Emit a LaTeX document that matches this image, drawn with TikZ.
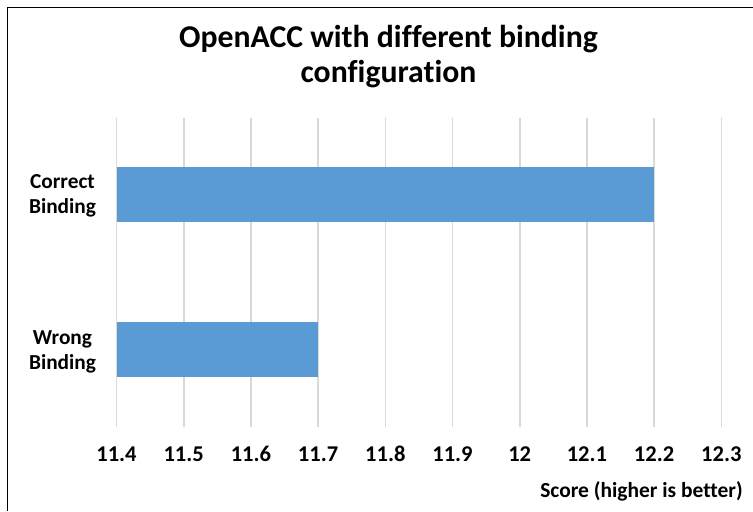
\documentclass[tikz,border=0pt]{standalone}
\usepackage{fontspec}
\setmainfont[Ligatures=NoCommon]{Carlito}
\definecolor{barblue}{HTML}{5B9BD5}
\definecolor{gridgray}{HTML}{D9D9D9}
\tikzset{
  gridline/.style={draw=gridgray, line width=1.2pt},
  bar/.style={fill=barblue},
  ticklabel/.style={anchor=base, inner sep=0pt, font=\fontsize{16.9pt}{19pt}\selectfont\bfseries},
  catlabel/.style={anchor=base, inner sep=0pt, align=center, font=\fontsize{16pt}{19.1pt}\selectfont\bfseries},
  titlelabel/.style={anchor=base, inner sep=0pt, align=center, font=\fontsize{23.8pt}{26.5pt}\selectfont\bfseries},
  axistitle/.style={anchor=base east, inner sep=0pt, font=\fontsize{16.1pt}{18pt}\selectfont\bfseries},
}
\begin{document}
\begin{tikzpicture}[x=0.75pt, y=-0.75pt]
  \useasboundingbox (0,0) rectangle (753,511);
  \fill[white] (0,0) rectangle (753,511);
  % chart frame (top and left edges)
  \draw[black, line width=1pt] (753,7.3) -- (7.3,7.3) -- (7.3,511);

  % title
  \node[titlelabel] (title1) at (388.5,47) {OpenACC with different binding};
  \node[titlelabel] (title2) at (388.5,82) {configuration};

  % vertical gridlines and tick labels, 11.4 ... 12.3
  \foreach \i/\lab in {0/11.4,1/11.5,2/11.6,3/11.7,4/11.8,5/11.9,6/12,7/12.1,8/12.2,9/12.3} {
    \coordinate (gt\i) at ({116.5+67.2*\i},118);
    \coordinate (gb\i) at ({116.5+67.2*\i},427);
    \draw[gridline] (gt\i) -- (gb\i);
    \node[ticklabel] (tick\i) at ({116.5+67.2*\i},461) {\lab};
  }

  % bars
  \fill[bar] (116.5,167.3) rectangle (654,222);
  \fill[bar] (116.5,322.3) rectangle (318,377);

  % category labels (base anchor sits on the last line)
  \node[catlabel] (catA) at (62.5,213.5) {Correct\\Binding};
  \node[catlabel] (catB) at (62.5,369.5) {Wrong\\Binding};

  % axis title
  \node[axistitle] (xtitle) at (743,497) {Score (higher is better)};
\end{tikzpicture}
\end{document}
